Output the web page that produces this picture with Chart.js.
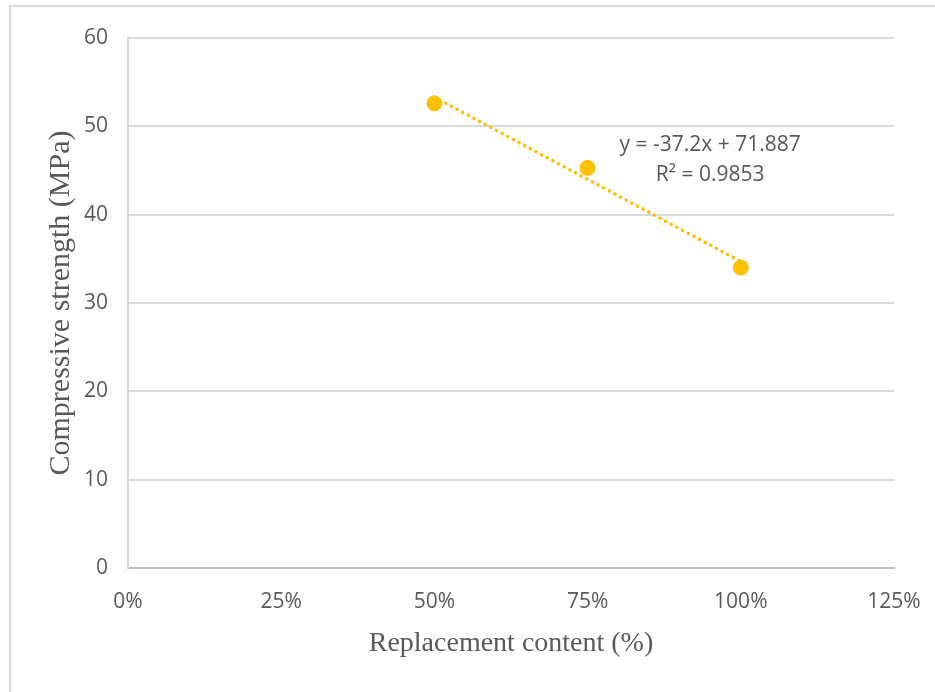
<!doctype html>
<html>
<head>
<meta charset="utf-8">
<title>Compressive strength vs replacement content</title>
<script src="https://cdn.jsdelivr.net/npm/chart.js@4.4.1/dist/chart.umd.min.js"></script>
<style>
  html, body { margin: 0; padding: 0; background: #ffffff; }
  #wrap { position: relative; width: 935px; height: 692px; overflow: hidden; }
  #frame {
    position: absolute; left: 9px; top: 5px; width: 960px; height: 720px;
    border-left: 2px solid #d9d9d9; border-top: 2px solid #d9d9d9;
  }
  canvas { position: absolute; left: 0; top: 0; }
</style>
</head>
<body>
<div id="wrap">
  <div id="frame"></div>
  <canvas id="chart" width="935" height="692"></canvas>
</div>
<script>
  // measured points (replacement %, MPa)
  const replacement = [50, 75, 100];
  const strength = [52.6, 45.3, 34.0];

  // linear trendline endpoints as drawn in the figure
  const trendX = [50, 100];
  const trendY = [53.3, 34.7];
  const trendLabel = ['y = -37.2x + 71.887', 'R\u00b2 = 0.9853'];

  const xTicks = [0, 25, 50, 75, 100, 125];
  const yTicks = [0, 10, 20, 30, 40, 50, 60];

  const GREY = '#595959';
  const GOLD = '#FFC000';
  const tickFont = { family: '"Open Sans", sans-serif', size: 21 };
  const titleFont = { family: '"Liberation Serif", "Times New Roman", serif', size: 28 };

  // equation text sits to the right of the middle point
  const trendLabelPlugin = {
    id: 'trendLabel',
    afterDatasetsDraw(chart) {
      const { ctx, scales } = chart;
      const x = scales.x.getPixelForValue(95);
      const y = scales.y.getPixelForValue(47.9);
      ctx.save();
      ctx.fillStyle = GREY;
      ctx.font = '21px "Open Sans", sans-serif';
      ctx.textAlign = 'center';
      ctx.textBaseline = 'middle';
      ctx.fillText(trendLabel[0], x, y);
      ctx.fillText(trendLabel[1], x, y + 30);
      ctx.restore();
    }
  };

  new Chart(document.getElementById('chart'), {
    type: 'scatter',
    data: {
      datasets: [
        {
          label: 'Strength',
          data: replacement.map((x, i) => ({ x, y: strength[i] })),
          backgroundColor: GOLD,
          borderColor: GOLD,
          pointRadius: 7.5,
          order: 1
        },
        {
          label: 'Linear trend',
          type: 'line',
          data: trendX.map((x, i) => ({ x, y: trendY[i] })),
          borderColor: GOLD,
          borderWidth: 3.5,
          borderDash: [0.1, 6.3],
          borderCapStyle: 'round',
          pointRadius: 0,
          fill: false,
          order: 2
        }
      ]
    },
    options: {
      responsive: false,
      animation: false,
      layout: { padding: { top: 38, right: 41, bottom: 0, left: 0 } },
      plugins: { legend: { display: false }, tooltip: { enabled: false } },
      scales: {
        x: {
          type: 'linear',
          min: 0,
          max: 125,
          afterBuildTicks: (s) => { s.ticks = xTicks.map(v => ({ value: v })); },
          afterFit: (s) => { s.height = 124; s.paddingLeft = 0; s.paddingRight = 0; },
          grid: { display: false, drawTicks: false },
          border: { display: true, color: '#bfbfbf', width: 2 },
          ticks: { color: GREY, font: tickFont, padding: 21, callback: (v) => v + '%' },
          title: { display: true, text: 'Replacement content (%)', color: GREY, font: titleFont, padding: { top: 0, bottom: 32 } }
        },
        y: {
          min: 0,
          max: 60,
          afterBuildTicks: (s) => { s.ticks = yTicks.map(v => ({ value: v })); },
          afterFit: (s) => { s.width = 128; },
          grid: { color: '#d9d9d9', lineWidth: 2, drawTicks: false },
          border: { display: true, color: '#d9d9d9', width: 2 },
          ticks: { color: GREY, font: tickFont, padding: 20 },
          title: { display: true, text: 'Compressive strength (MPa)', color: GREY, font: { family: titleFont.family, size: 30 }, padding: { top: 43, bottom: 0 } }
        }
      }
    },
    plugins: [trendLabelPlugin]
  });
</script>
</body>
</html>
